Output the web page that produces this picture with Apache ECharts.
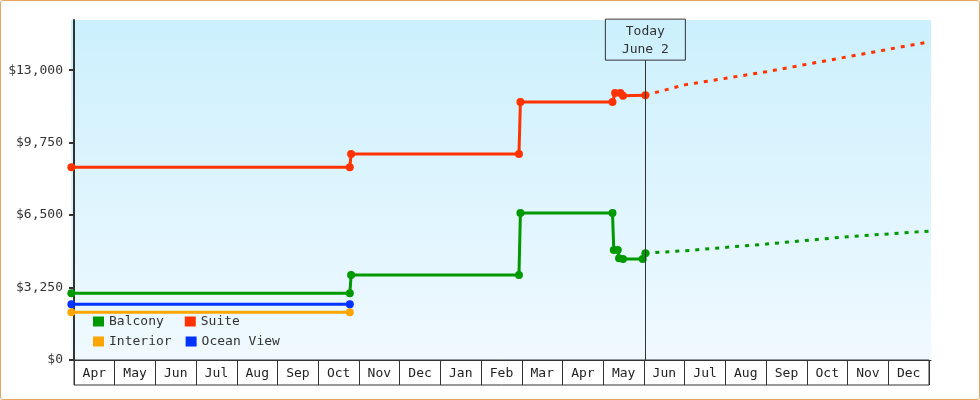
<!DOCTYPE html>
<html lang="en">
<head>
<meta charset="UTF-8">
<title>Cabin price history</title>
<script src="https://cdn.jsdelivr.net/npm/echarts@6/dist/echarts.min.js"></script>
<style>
  body { margin: 0; background: #fff; }
  #wrap { position: relative; width: 980px; height: 400px; }
  #chart { width: 980px; height: 400px; }
  #frame {
    position: absolute; left: 0; top: 0; width: 980px; height: 400px;
    box-sizing: border-box; border: 1px solid #e8a660; border-radius: 3px;
    pointer-events: none;
  }
</style>
</head>
<body>
<div id="wrap">
  <div id="chart"></div>
  <div id="frame"></div>
</div>
<script>
// month boxes under the plot (Apr of last year .. Dec of this year)
var months = ['Apr', 'May', 'Jun', 'Jul', 'Aug', 'Sep', 'Oct', 'Nov', 'Dec', 'Jan', 'Feb',
              'Mar', 'Apr', 'May', 'Jun', 'Jul', 'Aug', 'Sep', 'Oct', 'Nov', 'Dec'];
var yTicks = [0, 3250, 6500, 9750, 13000];

var todayDate = '2025-06-02';
var todayText = ['Today', 'June 2'];

var balconyDates  = ['2024-03-30', '2024-10-25', '2024-10-26', '2025-02-27', '2025-02-28', '2025-05-08',
                     '2025-05-09', '2025-05-12', '2025-05-13', '2025-05-16', '2025-05-31', '2025-06-02'];
var balconyPrices = [2990, 2990, 3810, 3810, 6590, 6590, 4930, 4930, 4560, 4530, 4530, 4790];

var suiteDates  = ['2024-03-30', '2024-10-25', '2024-10-26', '2025-02-27', '2025-02-28', '2025-05-08',
                   '2025-05-10', '2025-05-14', '2025-05-16', '2025-06-02'];
var suitePrices = [8650, 8650, 9240, 9240, 11570, 11570, 11980, 11980, 11850, 11880];

var interiorDates  = ['2024-03-30', '2024-10-25'];
var interiorPrices = [2140, 2140];

var oceanDates  = ['2024-03-30', '2024-10-25'];
var oceanPrices = [2500, 2500];

// forecast after today (dashed)
var forecastDates   = ['2025-06-02', '2025-07-01', '2025-09-01', '2025-11-01', '2026-01-01'];
var suiteForecast   = [11880, 12340, 12930, 13600, 14270];
var balconyForecast = [4790, 4900, 5200, 5530, 5780];

var colors = { balcony: '#009900', suite: '#ff3300', interior: '#ffa500', ocean: '#0033ff' };
var mono = 'DejaVu Sans Mono';

// position in months counted from Apr 1 of the first year
function monthPos(d) {
    var p = d.split('-').map(Number);
    var days = new Date(p[0], p[1], 0).getDate();
    return (p[0] - 2024) * 12 + (p[1] - 4) + (p[2] - 1) / days;
}

function pairs(dates, values) {
    return dates.map(function (d, i) { return [monthPos(d), values[i]]; });
}

function priceLine(name, color, dates, values) {
    return {
        name: name,
        type: 'line',
        data: pairs(dates, values),
        symbol: 'circle',
        symbolSize: 8,
        itemStyle: { color: color },
        lineStyle: { color: color, width: 3 },
        emphasis: { disabled: true }
    };
}

function forecastLine(name, color, values) {
    return {
        name: name,
        type: 'line',
        data: pairs(forecastDates, values),
        showSymbol: false,
        itemStyle: { color: color },
        lineStyle: { color: color, width: 3, type: [4, 6] },
        emphasis: { disabled: true }
    };
}

var chart = echarts.init(document.getElementById('chart'));

var todaySeries = forecastLine('Suite forecast', colors.suite, suiteForecast);
todaySeries.markLine = {
    silent: true,
    symbol: ['none', 'none'],
    lineStyle: { color: '#333', width: 1, type: 'solid' },
    data: [[{ coord: [monthPos(todayDate), 0] }, { coord: [monthPos(todayDate), 13450] }]],
    label: {
        show: true,
        position: 'end',
        distance: 0,
        formatter: function () { return todayText.join('\n'); },
        fontFamily: mono,
        fontSize: 13,
        color: '#333',
        lineHeight: 18,
        width: 60,
        align: 'center',
        padding: [3, 10, 2, 10],
        borderColor: '#333',
        borderWidth: 1
    }
};

var legendText = { fontFamily: mono, fontSize: 13, color: '#333' };

var option = {
    animation: false,
    backgroundColor: '#fff',
    grid: [
        {
            left: 71, right: 49, top: 20, bottom: 40,
            show: true, borderWidth: 0,
            backgroundColor: {
                type: 'linear', x: 0, y: 0, x2: 0, y2: 1,
                colorStops: [{ offset: 0, color: '#ccf0fd' }, { offset: 1, color: '#f0f9ff' }]
            }
        },
        { left: 74, right: 51, top: 360, height: 25, show: true, borderColor: '#333', borderWidth: 1 }
    ],
    legend: [
        {
            data: ['Balcony', 'Suite'],
            left: 88, top: 310, itemWidth: 11, itemHeight: 10, itemGap: 21, icon: 'rect',
            textStyle: legendText
        },
        {
            data: ['Interior', 'Ocean View'],
            left: 88, top: 330, itemWidth: 11, itemHeight: 10, itemGap: 14, icon: 'rect',
            textStyle: legendText
        }
    ],
    xAxis: [
        {
            type: 'value', gridIndex: 0, min: -0.074, max: 21.049,
            axisLine: { show: true, lineStyle: { color: '#333', width: 1 } },
            axisTick: { show: false }, axisLabel: { show: false }, splitLine: { show: false }
        },
        {
            type: 'category', gridIndex: 1, data: months, boundaryGap: true,
            axisLine: { show: false }, axisTick: { show: false },
            splitLine: { show: true, interval: 0, lineStyle: { color: '#333', width: 1 } },
            axisLabel: { inside: true, interval: 0, margin: 5, fontFamily: mono, fontSize: 13, color: '#222' }
        }
    ],
    yAxis: [
        {
            type: 'value', gridIndex: 0, min: 0, max: 15250,
            axisLine: { show: true, lineStyle: { color: '#333', width: 2 } },
            axisTick: { show: true, length: 5, customValues: yTicks, lineStyle: { color: '#333', width: 2 } },
            axisLabel: {
                customValues: yTicks, margin: 8, fontFamily: mono, fontSize: 13, color: '#333',
                formatter: function (v) { return '$' + v.toLocaleString('en-US'); }
            },
            splitLine: { show: false }
        },
        { type: 'value', gridIndex: 1, show: false }
    ],
    series: [
        priceLine('Interior', colors.interior, interiorDates, interiorPrices),
        priceLine('Ocean View', colors.ocean, oceanDates, oceanPrices),
        priceLine('Balcony', colors.balcony, balconyDates, balconyPrices),
        priceLine('Suite', colors.suite, suiteDates, suitePrices),
        forecastLine('Balcony forecast', colors.balcony, balconyForecast),
        todaySeries
    ]
};

chart.setOption(option);
</script>
</body>
</html>
